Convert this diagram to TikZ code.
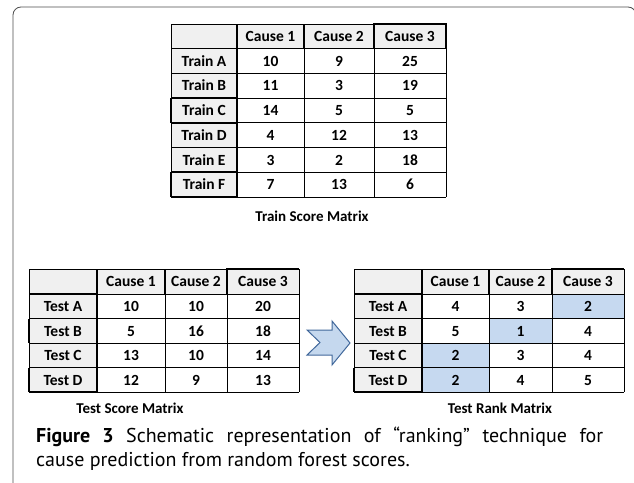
\documentclass[tikz,border=0pt]{standalone}
\usepackage{fontspec}
\setmainfont{Carlito}
\newfontfamily\capfont{PT Sans}
\definecolor{cellgray}{HTML}{F0F0F0}
\definecolor{rankblue}{HTML}{C6D9F0}
\definecolor{arrowfill}{HTML}{C5D8EE}
\definecolor{arrowline}{HTML}{41689B}
\definecolor{framegray}{HTML}{4D4D4D}

\tikzset{
  cell/.style={font=\bfseries\fontsize{15.5}{17}\selectfont, inner sep=0pt, text height=10.5pt, text depth=0pt},
  tabtitle/.style={font=\bfseries\fontsize{15}{17}\selectfont, inner sep=0pt},
  gridline/.style={line width=0.7pt},
  heavy/.style={line width=1.7pt},
}

\begin{document}
\begin{tikzpicture}[x=1pt, y=-1pt]
\useasboundingbox (0,0) rectangle (634,482);
% 外框
\draw[framegray, line width=0.8pt, rounded corners=8pt] (13,7) rectangle (636,492);

% Train Score Matrix
\fill[cellgray] (171,24) rectangle (446,48.5);
\fill[cellgray] (171,24) rectangle (237,197);
\foreach \x in {171,237,304,374,446} \draw[gridline] (\x,24) -- (\x,197);
\foreach \y in {24,48.5,73.25,98,122.75,147.5,172.25,197} \draw[gridline] (171,\y) -- (446,\y);
\draw[heavy] (237,24) -- (237,197);
\draw[heavy] (304,24) -- (304,48.5);
\draw[heavy] (374,48.5) -- (374,24) -- (446,24) -- (446,48.5);
\foreach \y in {48.5,98,122.75,172.25,197} \draw[heavy] (171,\y) -- (237,\y);
\draw[heavy] (171,98) -- (171,122.75);
\draw[heavy] (171,172.25) -- (171,197);
\node[cell] (train-h1) at (270.5,36.25) {Cause 1};
\node[cell] (train-h2) at (339,36.25) {Cause 2};
\node[cell] (train-h3) at (410,36.25) {Cause 3};
\foreach \lab/\a/\b/\c [count=\i] in {A/10/9/25, B/11/3/19, C/14/5/5, D/4/12/13, E/3/2/18, F/7/13/6} {
  \node[cell] (train-\lab) at (204,{48.5+24.75*(\i-0.5)}) {Train \lab};
  \node[cell] (train-\lab-1) at (270.5,{48.5+24.75*(\i-0.5)}) {\a};
  \node[cell] (train-\lab-2) at (339,{48.5+24.75*(\i-0.5)}) {\b};
  \node[cell] (train-\lab-3) at (410,{48.5+24.75*(\i-0.5)}) {\c};
}
\node[tabtitle] (train-title) at (312,216) {Train Score Matrix};

% Test Score Matrix
\fill[cellgray] (29,269) rectangle (299,294);
\fill[cellgray] (29,269) rectangle (97,392);
\foreach \x in {29,97,165,227,299} \draw[gridline] (\x,269) -- (\x,392);
\foreach \y in {269,294,318.5,343,367.5,392} \draw[gridline] (29,\y) -- (299,\y);
\draw[heavy] (97,269) -- (97,392);
\draw[heavy] (165,269) -- (165,294);
\draw[heavy] (227,294) -- (227,269) -- (299,269);
\foreach \y in {294,318.5,367.5,392} \draw[heavy] (29,\y) -- (97,\y);
\draw[heavy] (29,318.5) -- (29,343);
\draw[heavy] (29,367.5) -- (29,392);
\node[cell] (score-h1) at (131,281.5) {Cause 1};
\node[cell] (score-h2) at (196,281.5) {Cause 2};
\node[cell] (score-h3) at (263,281.5) {Cause 3};
\foreach \lab/\a/\b/\c [count=\i] in {A/10/10/20, B/5/16/18, C/13/10/14, D/12/9/13} {
  \node[cell] (score-\lab) at (63,{294+24.5*(\i-0.5)}) {Test \lab};
  \node[cell] (score-\lab-1) at (131,{294+24.5*(\i-0.5)}) {\a};
  \node[cell] (score-\lab-2) at (196,{294+24.5*(\i-0.5)}) {\b};
  \node[cell] (score-\lab-3) at (263,{294+24.5*(\i-0.5)}) {\c};
}
\node[tabtitle] (score-title) at (130,408.5) {Test Score Matrix};

% 箭头
\draw[arrowline, fill=arrowfill, line width=1pt, line join=miter]
  (307,330) -- (332,330) -- (332,321) -- (350,343) -- (332,365) -- (332,355) -- (307,355) -- (320,342.5) -- cycle;

% Test Rank Matrix
\fill[cellgray] (354,269) rectangle (624,294);
\fill[cellgray] (354,269) rectangle (422,392);
\fill[rankblue] (552,294) rectangle (624,318.5);
\fill[rankblue] (489,318.5) rectangle (552,343);
\fill[rankblue] (422,343) rectangle (489,392);
\foreach \x in {354,422,489,552,624} \draw[gridline] (\x,269) -- (\x,392);
\foreach \y in {269,294,318.5,343,367.5,392} \draw[gridline] (354,\y) -- (624,\y);
\draw[heavy] (422,269) -- (422,392);
\draw[heavy] (489,269) -- (489,294);
\draw[heavy] (552,294) -- (552,269) -- (624,269);
\foreach \y in {294,318.5,367.5,392} \draw[heavy] (354,\y) -- (422,\y);
\draw[heavy] (354,367.5) -- (354,392);
\node[cell] (rank-h1) at (455.5,281.5) {Cause 1};
\node[cell] (rank-h2) at (520.5,281.5) {Cause 2};
\node[cell] (rank-h3) at (588,281.5) {Cause 3};
\foreach \lab/\a/\b/\c [count=\i] in {A/4/3/2, B/5/1/4, C/2/3/4, D/2/4/5} {
  \node[cell] (rank-\lab) at (388,{294+24.5*(\i-0.5)}) {Test \lab};
  \node[cell] (rank-\lab-1) at (455.5,{294+24.5*(\i-0.5)}) {\a};
  \node[cell] (rank-\lab-2) at (520.5,{294+24.5*(\i-0.5)}) {\b};
  \node[cell] (rank-\lab-3) at (588,{294+24.5*(\i-0.5)}) {\c};
}
\node[tabtitle] (rank-title) at (500,408.5) {Test Rank Matrix};

% 图注
\node[anchor=north west, inner sep=0pt, text width=567pt, align=justify,
      font=\capfont\fontsize{20}{24}\selectfont] (caption) at (36,427)
  {\textbf{Figure 3} Schematic representation of “ranking” technique for\linebreak
   cause prediction from random forest scores.};
\end{tikzpicture}
\end{document}
